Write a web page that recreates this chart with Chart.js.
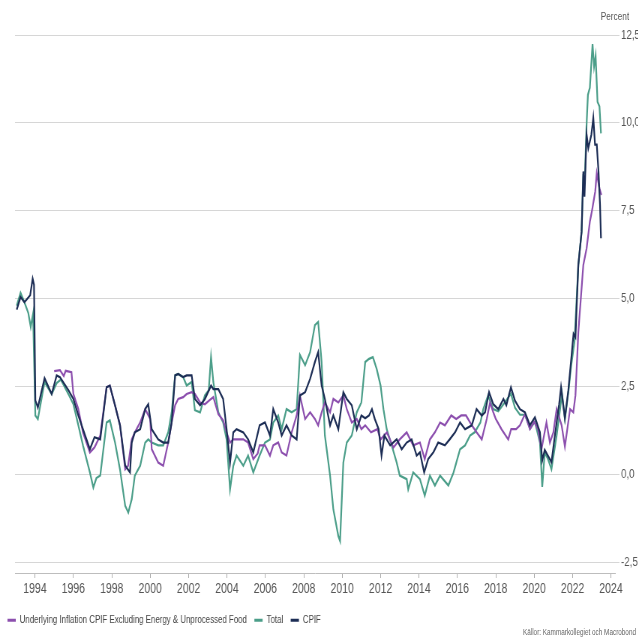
<!DOCTYPE html>
<html>
<head>
<meta charset="utf-8">
<script src="https://cdn.jsdelivr.net/npm/chart.js@4.4.0/dist/chart.umd.min.js"></script>
<style>
  html, body { margin: 0; padding: 0; background: #fff; overflow: hidden; }
  /* the reference text is tall and condensed, so the whole chart is drawn wider and squeezed */
  #wrap { position: absolute; left: 0; top: 0; width: 851px; height: 638px;
          transform: scaleX(0.75); transform-origin: 0 0;
          font-family: "Liberation Sans Narrow", "Liberation Sans", sans-serif; }
  #chart { position: absolute; left: 0; top: 0; }
  .note { position: absolute; color: #555; white-space: nowrap; line-height: 1; }
  #unit { left: 801px; top: 11px; font-size: 11px; }
  #src { right: 3px; top: 628px; font-size: 8.5px; color: #666; }
</style>
</head>
<body>
<div id="wrap">
  <canvas id="chart" width="851" height="638"></canvas>
  <div class="note" id="unit">Percent</div>
  <div class="note" id="src">Källor: Kammarkollegiet och Macrobond</div>
</div>
<script>
// readings: [decimal year, percent]
const cpif = [
  [1993.05,4.69],[1993.25,5.05],[1993.45,4.9],[1993.6,5.0],[1993.75,5.1],[1993.88,5.57],[1993.95,5.4],
  [1994.02,2.11],[1994.15,1.91],[1994.5,2.74],[1994.87,2.29],[1995.13,2.82],[1995.3,2.77],[1995.74,2.4],
  [1996.0,2.15],[1996.26,1.68],[1996.5,1.29],[1996.86,0.72],[1997.1,1.06],[1997.4,1.0],[1997.73,2.48],
  [1997.9,2.53],[1998.17,1.97],[1998.43,1.4],[1998.7,0.26],[1998.95,0.06],[1999.04,0.91],[1999.2,1.2],
  [1999.48,1.29],[1999.74,1.86],[1999.9,2.0],[2000.08,1.29],[2000.42,1.0],[2000.68,0.91],[2000.94,0.91],
  [2001.12,1.48],[2001.3,2.82],[2001.46,2.86],[2001.72,2.77],[2001.9,2.82],[2002.16,2.82],[2002.33,2.15],
  [2002.6,1.97],[2002.85,2.15],[2003.17,2.53],[2003.29,2.43],[2003.55,2.43],[2003.8,2.15],[2003.98,1.29],
  [2004.16,0.34],[2004.33,1.2],[2004.5,1.29],[2004.85,1.2],[2005.1,1.0],[2005.37,0.63],[2005.7,1.4],
  [2005.98,1.48],[2006.24,1.11],[2006.41,1.86],[2006.67,1.48],[2006.85,1.11],[2007.1,1.4],[2007.37,1.11],
  [2007.63,1.0],[2007.8,2.25],[2008.07,2.34],[2008.33,2.72],[2008.58,3.2],[2008.75,3.48],[2008.93,2.53],
  [2009.1,2.15],[2009.37,1.4],[2009.54,1.68],[2009.8,1.29],[2010.06,2.34],[2010.24,2.15],[2010.5,1.97],
  [2010.76,1.29],[2011.0,1.68],[2011.2,1.6],[2011.4,1.68],[2011.55,1.86],[2011.7,1.58],[2011.9,1.29],
  [2012.05,0.54],[2012.2,1.11],[2012.5,0.83],[2012.84,1.0],[2013.1,0.72],[2013.36,0.91],[2013.62,1.0],
  [2013.88,0.54],[2014.05,0.63],[2014.27,0.06],[2014.48,0.44],[2014.75,0.63],[2015.0,0.91],[2015.35,0.83],
  [2015.6,1.0],[2015.88,1.2],[2016.14,1.48],[2016.4,1.29],[2016.75,1.4],[2017.0,1.86],[2017.27,1.68],
  [2017.44,1.77],[2017.65,2.34],[2017.87,2.0],[2018.13,1.86],[2018.4,2.15],[2018.55,1.97],[2018.79,2.48],
  [2019.0,2.1],[2019.26,1.86],[2019.52,1.77],[2019.78,1.4],[2020.04,1.63],[2020.3,1.2],[2020.42,0.4],
  [2020.55,0.7],[2020.75,0.5],[2020.9,0.35],[2021.1,1.2],[2021.3,2.0],[2021.4,2.48],[2021.6,1.6],
  [2021.78,2.4],[2021.95,3.4],[2022.05,4.0],[2022.15,3.9],[2022.3,5.96],[2022.47,6.9],[2022.56,8.62],
  [2022.62,7.9],[2022.73,9.67],[2022.82,9.28],[2022.9,9.47],[2022.98,9.67],[2023.08,10.14],[2023.17,9.38],
  [2023.26,9.38],[2023.35,8.62],[2023.43,7.67],[2023.48,6.72]
];

const total = [
  [1993.05,4.8],[1993.25,5.17],[1993.45,4.9],[1993.65,4.6],[1993.78,4.2],[1993.9,4.57],
  [1994.02,1.68],[1994.15,1.58],[1994.5,2.63],[1994.87,2.29],[1995.13,2.6],[1995.35,2.7],[1995.74,2.29],
  [1996.0,2.0],[1996.26,1.4],[1996.5,0.83],[1996.86,0.06],[1997.04,-0.37],[1997.2,-0.1],[1997.4,-0.03],
  [1997.73,1.48],[1997.9,1.54],[1998.17,0.91],[1998.43,0.14],[1998.7,-0.89],[1998.86,-1.08],[1999.04,-0.7],
  [1999.2,-0.03],[1999.48,0.25],[1999.74,0.91],[1999.9,1.0],[2000.08,0.91],[2000.42,0.83],[2000.68,0.83],
  [2000.94,1.2],[2001.12,1.77],[2001.3,2.82],[2001.46,2.86],[2001.72,2.77],[2001.9,2.53],[2002.16,2.63],
  [2002.33,1.83],[2002.6,1.77],[2002.85,2.25],[2003.05,2.4],[2003.17,3.34],[2003.29,2.63],[2003.55,1.77],
  [2003.8,1.48],[2003.98,1.0],[2004.16,-0.42],[2004.33,0.25],[2004.5,0.54],[2004.85,0.25],[2005.1,0.54],
  [2005.37,0.06],[2005.7,0.54],[2005.98,0.91],[2006.24,1.0],[2006.41,1.48],[2006.67,1.68],[2006.85,1.29],
  [2007.1,1.86],[2007.37,1.77],[2007.63,1.86],[2007.8,3.4],[2008.07,3.11],[2008.33,3.48],[2008.58,4.25],
  [2008.75,4.34],[2008.93,3.2],[2009.1,1.11],[2009.37,-0.03],[2009.54,-0.99],[2009.8,-1.75],[2009.89,-1.89],
  [2010.06,0.34],[2010.24,0.91],[2010.5,1.11],[2010.76,1.77],[2011.0,2.05],[2011.2,3.2],[2011.4,3.29],
  [2011.6,3.34],[2011.8,3.0],[2012.0,2.53],[2012.15,1.86],[2012.32,1.29],[2012.58,0.83],[2012.84,0.34],
  [2013.0,-0.03],[2013.36,-0.13],[2013.44,-0.42],[2013.7,0.06],[2014.05,-0.13],[2014.3,-0.6],[2014.57,-0.03],
  [2014.83,-0.31],[2015.1,-0.03],[2015.53,-0.31],[2015.8,0.06],[2016.14,0.72],[2016.4,0.83],[2016.66,1.11],
  [2016.9,1.2],[2017.2,1.48],[2017.35,1.86],[2017.6,2.25],[2017.87,1.86],[2018.13,1.8],[2018.4,2.0],
  [2018.79,2.3],[2019.0,1.9],[2019.26,1.7],[2019.52,1.7],[2019.78,1.3],[2020.04,1.5],[2020.3,0.91],
  [2020.42,-0.35],[2020.55,0.63],[2020.72,0.44],[2020.9,0.15],[2021.17,1.11],[2021.35,1.86],[2021.45,2.3],
  [2021.6,1.58],[2021.78,2.34],[2021.93,3.11],[2022.1,3.77],[2022.3,5.96],[2022.47,6.9],[2022.56,8.53],
  [2022.65,8.6],[2022.73,9.96],[2022.8,10.8],[2022.9,11.0],[2023.04,12.24],[2023.12,11.6],[2023.2,11.9],
  [2023.3,10.6],[2023.4,10.47],[2023.48,9.7]
];

const underlying = [
  [1995.0,2.94],[1995.3,2.97],[1995.5,2.8],[1995.6,2.95],[1995.9,2.91],[1996.0,2.29],[1996.26,1.86],
  [1996.5,1.2],[1996.86,0.63],[1997.1,0.77],[1997.4,1.11],[1997.73,2.48],[1997.9,2.53],[1998.17,1.97],
  [1998.43,1.4],[1998.7,0.15],[1998.85,0.25],[1999.04,1.0],[1999.2,1.2],[1999.48,1.48],[1999.74,1.86],
  [2000.0,1.58],[2000.08,0.72],[2000.42,0.34],[2000.68,0.25],[2000.94,0.91],[2001.12,1.48],[2001.3,1.97],
  [2001.46,2.15],[2001.72,2.2],[2001.9,2.29],[2002.16,2.34],[2002.33,2.29],[2002.6,2.05],[2002.85,2.0],
  [2003.17,2.15],[2003.29,2.2],[2003.55,1.72],[2003.8,1.54],[2003.98,1.2],[2004.16,0.91],[2004.33,1.0],
  [2004.5,1.0],[2004.85,1.0],[2005.1,0.91],[2005.37,0.44],[2005.6,0.6],[2005.7,0.83],[2005.98,0.83],
  [2006.24,0.54],[2006.41,0.83],[2006.67,0.91],[2006.85,0.63],[2007.1,0.54],[2007.37,1.2],[2007.63,1.68],
  [2007.8,2.25],[2008.07,1.58],[2008.33,1.77],[2008.58,1.58],[2008.75,1.4],[2008.93,1.77],[2009.1,2.05],
  [2009.37,1.77],[2009.54,2.15],[2009.8,2.05],[2010.06,2.25],[2010.24,1.86],[2010.5,1.48],[2010.76,1.58],
  [2011.0,1.29],[2011.2,1.4],[2011.5,1.2],[2011.83,1.29],[2012.0,1.0],[2012.33,1.2],[2012.67,0.77],
  [2013.0,1.0],[2013.36,1.2],[2013.7,0.83],[2014.05,0.91],[2014.3,0.44],[2014.57,1.0],[2014.83,1.2],
  [2015.1,1.48],[2015.35,1.4],[2015.68,1.68],[2015.94,1.58],[2016.2,1.68],[2016.45,1.68],[2016.75,1.4],
  [2017.0,1.2],[2017.27,1.0],[2017.53,1.58],[2017.7,2.05],[2017.87,1.77],[2018.0,1.58],[2018.3,1.29],
  [2018.65,1.0],[2018.8,1.29],[2019.06,1.29],[2019.26,1.4],[2019.52,1.72],[2019.78,1.29],[2020.0,1.5],
  [2020.2,1.29],[2020.38,0.72],[2020.64,1.48],[2020.82,0.91],[2021.0,1.2],[2021.17,1.86],[2021.43,1.4],
  [2021.6,0.8],[2021.87,1.86],[2022.04,1.77],[2022.15,2.25],[2022.3,4.05],[2022.56,5.96],[2022.73,6.43],
  [2022.9,7.19],[2023.0,7.47],[2023.18,8.05],[2023.26,8.57],[2023.4,8.14],[2023.5,7.95]
];

const seriesNames = ['Underlying Inflation CPIF Excluding Energy & Unprocessed Food', 'Total', 'CPIF'];
const seriesColors = ['#8c4fae', '#4b9e89', '#1c2d55'];
const yearTicks = [1994, 1996, 1998, 2000, 2002, 2004, 2006, 2008, 2010, 2012, 2014, 2016, 2018, 2020, 2022, 2024];
const percentTicks = [-2.5, 0, 2.5, 5, 7.5, 10, 12.5];

const fontFamily = '"Liberation Sans Narrow", "Liberation Sans", sans-serif';
const toPoints = arr => arr.map(p => ({ x: p[0], y: p[1] }));

const datasets = [underlying, total, cpif].map((arr, i) => ({
  label: seriesNames[i],
  data: toPoints(arr),
  xAxisID: 'x',
  yAxisID: 'y',
  borderColor: seriesColors[i],
  backgroundColor: seriesColors[i],
  borderWidth: 2.2,
  pointRadius: 0,
  tension: 0,
  order: [1, 2, 0][i]   // CPIF on top, Total underneath
}));

new Chart(document.getElementById('chart'), {
  type: 'line',
  data: { datasets },
  options: {
    responsive: false,
    animation: false,
    layout: { padding: { left: 0, right: 0, top: 35, bottom: 2.5 } },
    scales: {
      x: {
        type: 'linear',
        min: 1992.96,
        max: 2024.21,
        afterBuildTicks: s => { s.ticks = yearTicks.map(v => ({ value: v })); },
        afterFit: s => { s.height = 32; },
        grid: { drawOnChartArea: false, drawTicks: true, tickLength: 5, color: '#aaa' },
        border: { display: true, color: '#bdbdbd' },
        ticks: { color: '#555', font: { family: fontFamily, size: 14 }, padding: 3,
                 maxRotation: 0, callback: v => String(v) }
      },
      y: {
        type: 'linear',
        position: 'right',
        min: -2.8,
        max: 12.5,
        afterBuildTicks: s => { s.ticks = percentTicks.map(v => ({ value: v })); },
        afterFit: s => { s.width = 31; },
        grid: { color: '#d6d6d6', drawTicks: true, tickLength: 6 },
        border: { display: false },
        ticks: { color: '#555', font: { family: fontFamily, size: 13 }, padding: 2,
                 callback: v => v.toFixed(1).replace('.', ',') }
      },
      // empty spacer on the left so the legend can start further left than the plot
      spacer: {
        type: 'linear',
        position: 'left',
        min: 0,
        max: 1,
        afterFit: s => { s.width = 20; },
        grid: { display: false },
        border: { display: false },
        ticks: { display: false }
      }
    },
    plugins: {
      legend: {
        position: 'bottom',
        align: 'start',
        labels: {
          boxWidth: 11,
          boxHeight: 3,
          padding: 10,
          color: '#444',
          font: { family: fontFamily, size: 10.5 },
          sort: (a, b) => a.datasetIndex - b.datasetIndex,
          generateLabels: chart =>
            Chart.defaults.plugins.legend.labels.generateLabels(chart).map(l => ({ ...l, lineWidth: 0 }))
        }
      },
      tooltip: { enabled: false }
    }
  }
});
</script>
</body>
</html>
